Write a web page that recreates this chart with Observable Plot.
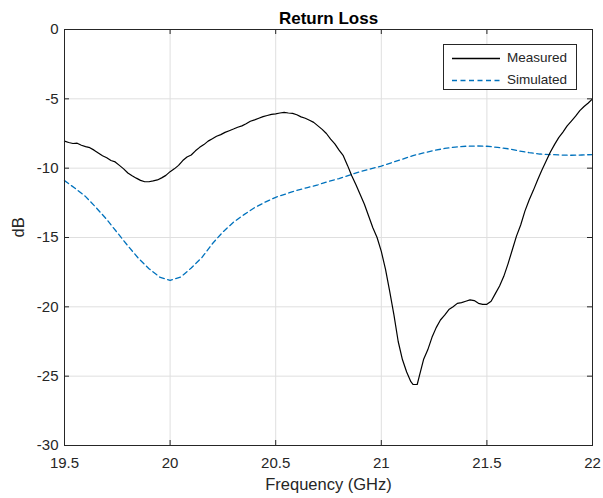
<!DOCTYPE html>
<html>
<head>
<meta charset="utf-8">
<script src="https://cdn.jsdelivr.net/npm/d3@7"></script>
<script src="https://cdn.jsdelivr.net/npm/@observablehq/plot@0.6"></script>
<style>
  html, body { margin: 0; padding: 0; background: #fff; }
  #wrap { position: relative; width: 603px; height: 498px; font-family: "Liberation Sans", Arial, Helvetica, sans-serif; }
  #legend { position: absolute; left: 443px; top: 44px; width: 132px; height: 44px; border: 1px solid #262626; background: #fff; }
  .row { position: absolute; left: 0; height: 20px; width: 132px; }
  .row svg { position: absolute; left: 8px; top: 0; }
  .row span { position: absolute; left: 63px; top: 0; line-height: 20px; font-size: 13.5px; color: #262626; }
</style>
</head>
<body>
<div id="wrap"></div>
<script>
const title = "Return Loss";
const xLabel = "Frequency (GHz)";
const yLabel = "dB";
const seriesNames = ["Measured", "Simulated"];
const xTicks = [19.5, 20, 20.5, 21, 21.5, 22];
const yTicks = [-30, -25, -20, -15, -10, -5, 0];

const measuredFreq = [19.50,19.52,19.54,19.56,19.58,19.60,19.62,19.64,19.66,19.68,19.70,19.72,19.74,19.76,19.78,19.80,19.82,19.84,19.86,19.88,19.90,19.92,19.94,19.96,19.98,20.00,20.02,20.04,20.06,20.08,20.10,20.12,20.14,20.16,20.18,20.20,20.22,20.24,20.26,20.28,20.30,20.32,20.34,20.36,20.38,20.40,20.42,20.44,20.46,20.48,20.50,20.52,20.54,20.56,20.58,20.60,20.62,20.64,20.66,20.68,20.70,20.72,20.74,20.76,20.78,20.80,20.82,20.84,20.86,20.88,20.90,20.92,20.94,20.96,20.98,21.00,21.02,21.04,21.06,21.08,21.10,21.12,21.14,21.15,21.17,21.18,21.20,21.22,21.24,21.26,21.28,21.30,21.32,21.34,21.36,21.38,21.40,21.42,21.44,21.46,21.48,21.50,21.52,21.54,21.56,21.58,21.60,21.62,21.64,21.66,21.68,21.70,21.72,21.74,21.76,21.78,21.80,21.82,21.84,21.86,21.88,21.90,21.92,21.94,21.96,21.98,22.00];
const measuredDb = [-8.05,-8.15,-8.22,-8.20,-8.35,-8.45,-8.52,-8.70,-8.90,-9.10,-9.25,-9.45,-9.55,-9.80,-10.05,-10.35,-10.55,-10.72,-10.88,-10.98,-10.98,-10.92,-10.85,-10.70,-10.52,-10.25,-10.05,-9.80,-9.45,-9.20,-9.05,-8.75,-8.50,-8.30,-8.05,-7.88,-7.70,-7.58,-7.42,-7.30,-7.18,-7.05,-6.95,-6.80,-6.62,-6.52,-6.40,-6.28,-6.20,-6.12,-6.08,-6.02,-5.98,-6.02,-6.05,-6.15,-6.30,-6.40,-6.55,-6.70,-6.95,-7.20,-7.50,-7.90,-8.25,-8.70,-9.10,-9.80,-10.55,-11.20,-11.90,-12.60,-13.45,-14.30,-15.00,-16.00,-17.30,-18.90,-20.60,-22.50,-23.80,-24.70,-25.40,-25.60,-25.60,-25.00,-23.80,-23.10,-22.20,-21.50,-20.95,-20.60,-20.20,-20.00,-19.75,-19.70,-19.60,-19.50,-19.55,-19.75,-19.82,-19.82,-19.60,-19.05,-18.50,-17.80,-16.90,-15.90,-14.90,-14.10,-13.10,-12.30,-11.60,-10.85,-10.15,-9.50,-8.85,-8.30,-7.80,-7.40,-6.95,-6.60,-6.25,-5.85,-5.55,-5.30,-5.00];

const simulatedFreq = [19.50,19.55,19.60,19.65,19.70,19.75,19.80,19.85,19.90,19.95,20.00,20.05,20.10,20.15,20.20,20.25,20.30,20.35,20.40,20.45,20.50,20.55,20.60,20.65,20.70,20.75,20.80,20.85,20.90,20.95,21.00,21.05,21.10,21.15,21.20,21.25,21.30,21.35,21.40,21.45,21.50,21.55,21.60,21.65,21.70,21.75,21.80,21.85,21.90,21.95,22.00];
const simulatedDb = [-10.90,-11.45,-12.05,-12.85,-13.70,-14.65,-15.60,-16.50,-17.25,-17.85,-18.10,-17.85,-17.20,-16.45,-15.45,-14.60,-13.90,-13.35,-12.85,-12.45,-12.10,-11.85,-11.60,-11.40,-11.20,-10.95,-10.75,-10.50,-10.25,-10.05,-9.85,-9.60,-9.35,-9.10,-8.90,-8.72,-8.58,-8.48,-8.42,-8.40,-8.42,-8.50,-8.60,-8.75,-8.88,-8.98,-9.02,-9.05,-9.07,-9.05,-9.02];

const measured = measuredFreq.map((f, i) => ({f, db: measuredDb[i]}));
const simulated = simulatedFreq.map((f, i) => ({f, db: simulatedDb[i]}));

const xGrid = xTicks.slice(1, -1);
const yGrid = yTicks.slice(1, -1);
const axisColor = "#262626";
const gridColor = "#dfdfdf";
const measColor = "#000000";
const simColor = "#0072BD";
const simDash = "5,3.5";

const W = 603, H = 498, mL = 64, mR = 11, mT = 29, mB = 53;
const fw = W - mL - mR, fh = H - mT - mB, tick = 5;

const chart = Plot.plot({
  width: W, height: H,
  marginLeft: mL, marginRight: mR, marginTop: mT, marginBottom: mB,
  style: {fontFamily: '"Liberation Sans", Arial, Helvetica, sans-serif', fontSize: "15px", color: axisColor, background: "#fff", overflow: "visible"},
  x: {domain: [19.5, 22]},
  y: {domain: [-30, 0]},
  marks: [
    Plot.ruleX(xGrid, {x: d => d, stroke: gridColor, strokeWidth: 1}),
    Plot.ruleY(yGrid, {y: d => d, stroke: gridColor, strokeWidth: 1}),
    Plot.line(simulated, {x: "f", y: "db", stroke: simColor, strokeWidth: 1.3, strokeDasharray: simDash}),
    Plot.line(measured, {x: "f", y: "db", stroke: measColor, strokeWidth: 1.2}),
    Plot.frame({stroke: axisColor, strokeWidth: 1}),
    Plot.ruleX(xTicks, {x: d => d, stroke: axisColor, insetTop: fh - tick}),
    Plot.ruleX(xTicks, {x: d => d, stroke: axisColor, insetBottom: fh - tick}),
    Plot.ruleY(yTicks, {y: d => d, stroke: axisColor, insetRight: fw - tick}),
    Plot.ruleY(yTicks, {y: d => d, stroke: axisColor, insetLeft: fw - tick}),
    Plot.axisX({ticks: xTicks, tickFormat: d => String(d), tickSize: 0, tickPadding: 12, label: null, fontSize: 15, fill: axisColor}),
    Plot.axisY({ticks: yTicks, tickFormat: d => String(d), tickSize: 0, tickPadding: 6, label: null, fontSize: 15, fill: axisColor}),
    Plot.text([title], {text: d => d, frameAnchor: "top", lineAnchor: "middle", dy: -11, fontWeight: "bold", fontSize: 17, fill: "#000"}),
    Plot.text([xLabel], {text: d => d, frameAnchor: "bottom", lineAnchor: "middle", dy: 39, fontSize: 16.5, fill: axisColor}),
    Plot.text([yLabel], {text: d => d, frameAnchor: "left", lineAnchor: "middle", dx: -46, rotate: -90, fontSize: 16.5, fill: axisColor})
  ]
});

const wrap = document.getElementById("wrap");
wrap.appendChild(chart);

const legend = document.createElement("div");
legend.id = "legend";
const rows = [
  {name: seriesNames[0], color: measColor, dash: null, top: 3},
  {name: seriesNames[1], color: simColor, dash: simDash, top: 25}
];
for (const r of rows) {
  const row = document.createElement("div");
  row.className = "row";
  row.style.top = r.top + "px";
  row.innerHTML = `<svg width="48" height="20"><line x1="0" x2="48" y1="10.5" y2="10.5" stroke="${r.color}" stroke-width="1.3" ${r.dash ? `stroke-dasharray="${r.dash}"` : ""}/></svg><span>${r.name}</span>`;
  legend.appendChild(row);
}
wrap.appendChild(legend);
</script>
</body>
</html>
